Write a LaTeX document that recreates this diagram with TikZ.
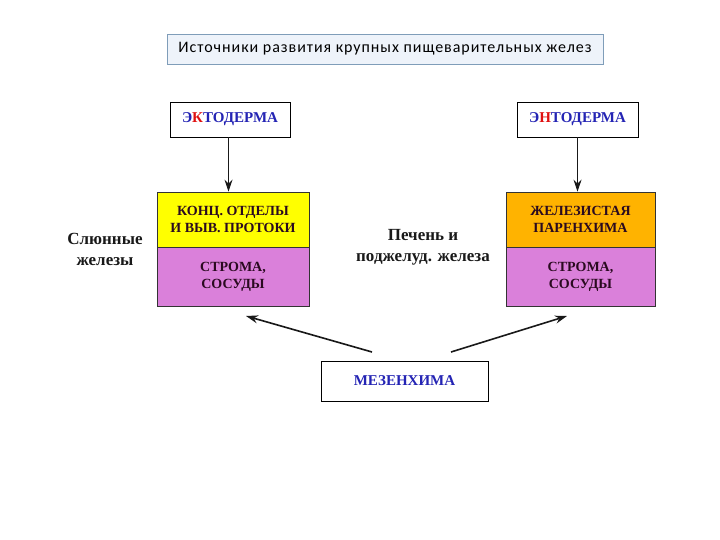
\documentclass[tikz,border=0pt]{standalone}
\usepackage{fontspec}
\setmainfont{Liberation Serif}
\newfontfamily\titlefont[LetterSpace=6]{Carlito}
\usetikzlibrary{positioning,arrows.meta}

\definecolor{titlefill}{HTML}{EEF3FA}
\definecolor{titleedge}{HTML}{7F9DB9}
\definecolor{layeryellow}{HTML}{FFFF00}
\definecolor{layerorange}{HTML}{FFB300}
\definecolor{layerviolet}{HTML}{DA80DA}
\definecolor{germblue}{HTML}{2424B4}
\definecolor{germred}{HTML}{E01010}
\definecolor{layertext}{HTML}{2A0A20}

\tikzset{
    germbox/.style={draw=black, fill=white, line width=0.8pt, minimum width=120pt, minimum height=35pt,
        font=\bfseries\fontsize{15}{17}\selectfont, text=germblue},
    layerbox/.style={draw=black!80, line width=0.6pt, minimum width=152pt, minimum height=56pt, align=center,
        font=\bfseries\fontsize{14}{17}\selectfont, text=layertext, inner sep=0pt},
    glandlabel/.style={align=center, font=\bfseries\fontsize{17}{21}\selectfont, text=black!90},
    growth/.style={-{Stealth[length=12pt,width=8pt]}, line width=1.1pt, black!90}
}

\begin{document}
\begin{tikzpicture}[x=1pt,y=-1pt]
    \useasboundingbox (0,0) rectangle (720,540);

    % Title
    \node[draw=titleedge, fill=titlefill, line width=0.8pt, minimum width=436pt, minimum height=30pt,
        font=\titlefont\fontsize{16}{18}\selectfont] (title) at (385,49) {Источники развития крупных пищеварительных желез};

    % Germ layers
    \node[germbox] (ecto) at (230,119.5) {Э\textcolor{germred}{К}ТОДЕРМА};
    \node[germbox, minimum width=121pt] (endo) at (577.5,119.5) {Э\textcolor{germred}{Н}ТОДЕРМА};
    \node[germbox, minimum width=167pt, minimum height=40pt] (mesen) at (404.5,381) {МЕЗЕНХИМА};

    % Salivary glands
    \node[layerbox, fill=layeryellow, minimum height=55pt] (konc) at (233,219.5) {КОНЦ. ОТДЕЛЫ\\И ВЫВ. ПРОТОКИ};
    \node[layerbox, fill=layerviolet, minimum height=59pt, below=0pt of konc] (stromaL) {СТРОМА,\\СОСУДЫ};
    \node[glandlabel] (saliv) at (105,249) {Слюнные\\железы};

    % Liver and pancreas
    \node[layerbox, fill=layerorange, minimum width=149pt, minimum height=55pt] (paren) at (580.5,219.5) {ЖЕЛЕЗИСТАЯ\\ПАРЕНХИМА};
    \node[layerbox, fill=layerviolet, minimum width=149pt, minimum height=59pt, below=0pt of paren] (stromaR) {СТРОМА,\\СОСУДЫ};
    \node[glandlabel] (liver) at (423,247) {Печень и\\поджелуд. железа};

    % Arrows
    \coordinate (mesenL) at (372,352);
    \coordinate (mesenR) at (451,352);
    \coordinate (tipL) at (246,316);
    \coordinate (tipR) at (567,316);
    \draw[growth, line width=0.9pt] ([xshift=-1.5pt]ecto.south) -- ([xshift=-1.5pt]ecto.south |- konc.north);
    \draw[growth, line width=0.9pt] (endo.south) -- (endo.south |- paren.north);
    \draw[growth, line width=1.6pt] (mesenL) -- (tipL);
    \draw[growth, line width=1.6pt] (mesenR) -- (tipR);
\end{tikzpicture}
\end{document}
